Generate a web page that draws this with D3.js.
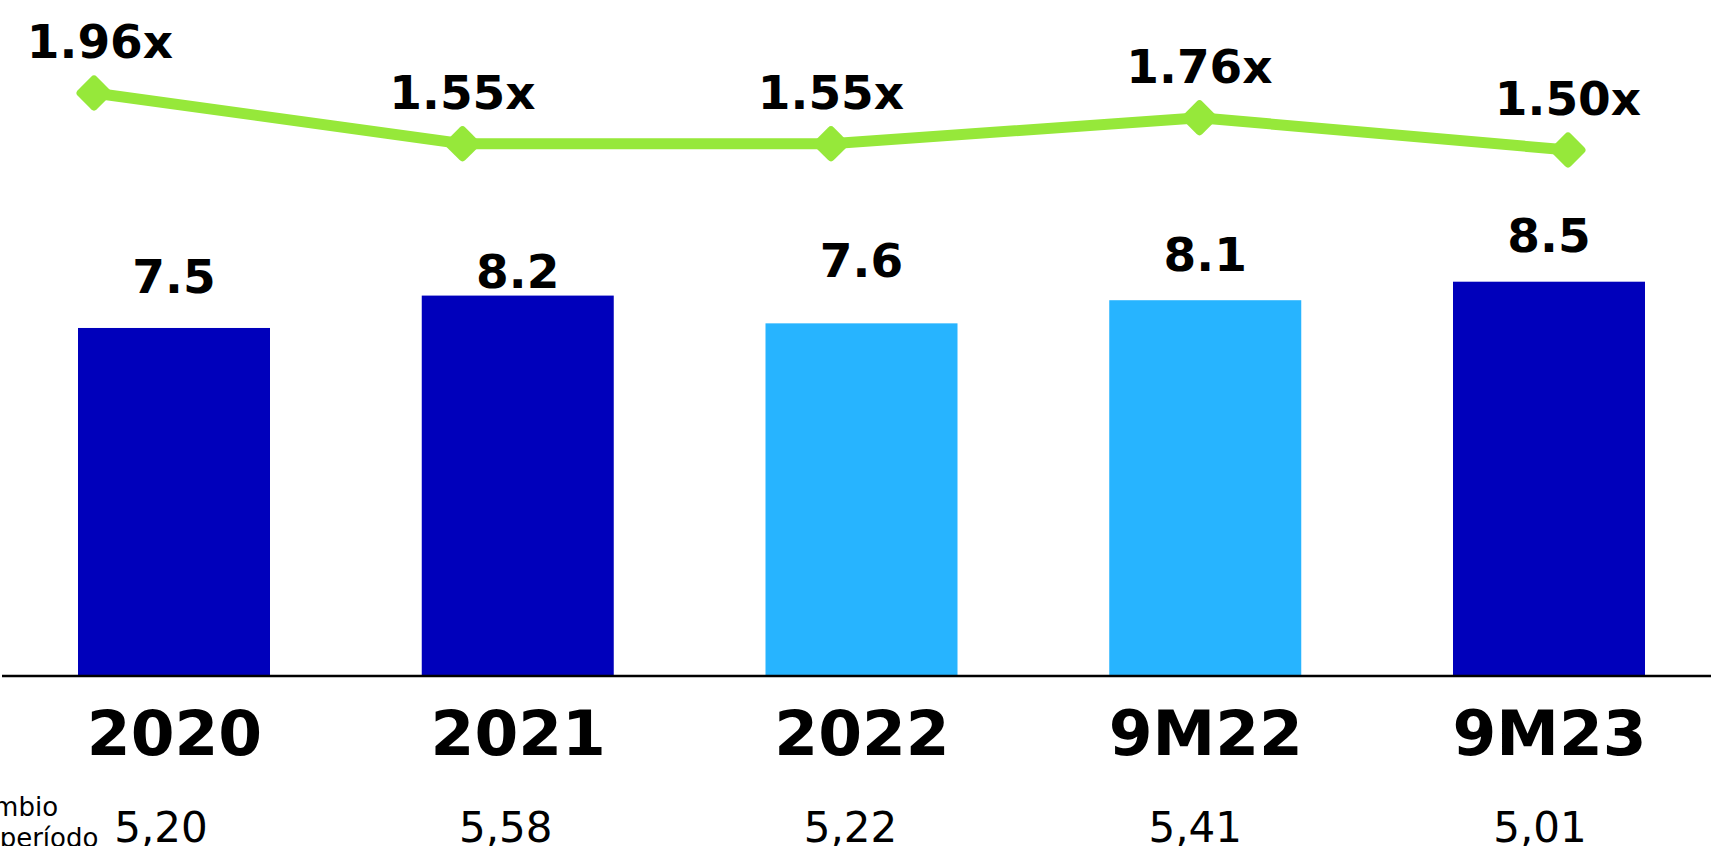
<!DOCTYPE html>
<html>
<head>
<meta charset="utf-8">
<script src="https://cdn.jsdelivr.net/npm/d3@7"></script>
<style>
  html, body { margin: 0; padding: 0; background: #ffffff; overflow: hidden; }
  svg { display: block; }
  text { font-family: "DejaVu Sans", Verdana, sans-serif; fill: #000; }
</style>
</head>
<body>
<svg id="chart" width="1711" height="846"></svg>
<script>
// Periods shown on the category axis
const categories = ["2020", "2021", "2022", "9M22", "9M23"];
// Bar series (values in the bar labels)
const barValues = [7.5, 8.2, 7.6, 8.1, 8.5];
const barLabels = ["7.5", "8.2", "7.6", "8.1", "8.5"];
// Full-year periods use the dark fill, nine-month periods the light fill
const barKinds = ["full", "full", "light", "light", "full"];
// Line series (multiple)
const lineValues = [1.96, 1.55, 1.55, 1.76, 1.50];
const lineLabels = ["1.96x", "1.55x", "1.55x", "1.76x", "1.50x"];
// Exchange rate row under the axis
const rateLabels = ["5,20", "5,58", "5,22", "5,41", "5,01"];
const rateTitle = ["Câmbio", "do período"];

// Layout
const W = 1711, H = 846;
const baseY = 675;
const barWidth = 192;
const labelLift = [35, 8, 46, 29, 30];   // gap between bar top and its value label
const colors = { full: "#0000BB", light: "#27B4FF", line: "#96E83A" };

const svg = d3.select("#chart");

// Scales
const xBar = d3.scalePoint().domain(categories).range([174, 1549]);
const xLine = d3.scalePoint().domain(categories).range([94, 1568]);
const xRate = d3.scalePoint().domain(categories).range([161, 1540]);
const yBar = d3.scaleLinear().domain([0, 10]).range([baseY, baseY - 462.7]);
const yLine = d3.scaleLinear().domain([0, 2]).range([336, 88]);

// Bars
svg.append("g").selectAll("rect")
  .data(categories)
  .join("rect")
  .attr("x", (d) => xBar(d) - barWidth / 2)
  .attr("y", (d, i) => yBar(barValues[i]))
  .attr("width", barWidth)
  .attr("height", (d, i) => yBar(0) - yBar(barValues[i]))
  .attr("fill", (d, i) => colors[barKinds[i]]);

// Bar value labels
svg.append("g").selectAll("text")
  .data(categories)
  .join("text")
  .attr("x", (d) => xBar(d))
  .attr("y", (d, i) => yBar(barValues[i]) - labelLift[i])
  .attr("text-anchor", "middle")
  .attr("font-size", 47)
  .attr("font-weight", "bold")
  .text((d, i) => barLabels[i]);

// Baseline
svg.append("line")
  .attr("x1", 2).attr("x2", W)
  .attr("y1", baseY + 1).attr("y2", baseY + 1)
  .attr("stroke", "#000").attr("stroke-width", 2.4);

// Category axis labels
const xAxis = d3.axisBottom(xBar).tickSize(0).tickPadding(0);
const axisG = svg.append("g").attr("transform", `translate(0,${baseY})`).call(xAxis);
axisG.select(".domain").remove();
axisG.selectAll("text")
  .attr("y", 80)
  .attr("dy", 0)
  .attr("font-size", 63)
  .attr("font-weight", "bold")
  .attr("font-family", "'DejaVu Sans', Verdana, sans-serif")
  .attr("fill", "#000");

// Line series
const linePath = d3.line()
  .x((d, i) => xLine(categories[i]))
  .y((d) => yLine(d));

svg.append("path")
  .datum(lineValues)
  .attr("d", linePath)
  .attr("fill", "none")
  .attr("stroke", colors.line)
  .attr("stroke-width", 11)
  .attr("stroke-linejoin", "round");

// Diamond markers
svg.append("g").selectAll("rect")
  .data(lineValues)
  .join("rect")
  .attr("x", -13.5).attr("y", -13.5)
  .attr("width", 27).attr("height", 27)
  .attr("rx", 4).attr("ry", 4)
  .attr("fill", colors.line)
  .attr("transform", (d, i) => `translate(${xLine(categories[i])},${yLine(d)}) rotate(45)`);

// Line value labels
svg.append("g").selectAll("text")
  .data(lineValues)
  .join("text")
  .attr("x", (d, i) => xLine(categories[i]) + (i === 0 ? 6 : 0))
  .attr("y", (d) => yLine(d) - 35)
  .attr("text-anchor", "middle")
  .attr("font-size", 47)
  .attr("font-weight", "bold")
  .text((d, i) => lineLabels[i]);

// Exchange rate row
svg.append("g").selectAll("text")
  .data(rateLabels)
  .join("text")
  .attr("x", (d, i) => xRate(categories[i]))
  .attr("y", 842)
  .attr("text-anchor", "middle")
  .attr("font-size", 42)
  .text((d) => d);

// Row title
svg.append("text")
  .attr("font-size", 26)
  .selectAll("tspan")
  .data(rateTitle)
  .join("tspan")
  .attr("x", -41)
  .attr("y", (d, i) => 816 + i * 31)
  .text((d) => d);
</script>
</body>
</html>
